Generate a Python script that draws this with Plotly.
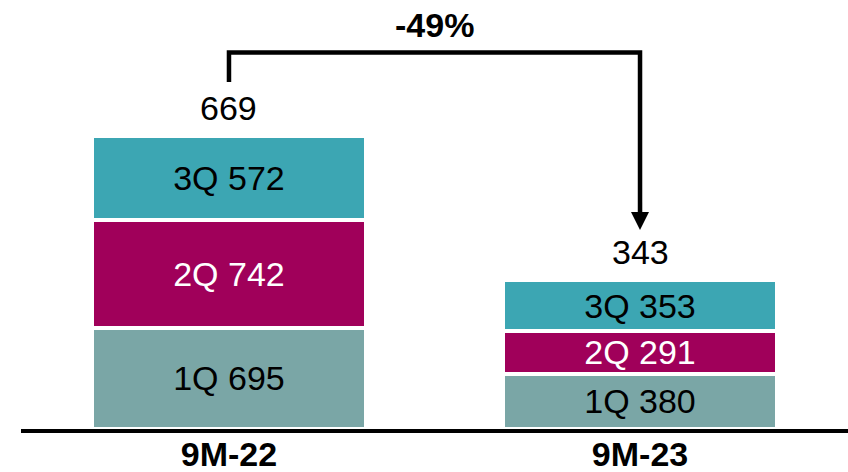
import plotly.graph_objects as go

periods = ["9M-22", "9M-23"]
quarters = ["1Q", "2Q", "3Q"]
q1 = [695, 380]
q2 = [742, 291]
q3 = [572, 353]
averages = [669, 343]
change_label = "-49%"

colors = {"1Q": "#7AA6A6", "2Q": "#A0005A", "3Q": "#3CA6B3"}
text_colors = {"1Q": "black", "2Q": "white", "3Q": "black"}
series = {"1Q": q1, "2Q": q2, "3Q": q3}

xs = list(range(len(periods)))
FONT = "Liberation Sans, Arial, sans-serif"

fig = go.Figure()
for q in quarters:
    vals = series[q]
    fig.add_trace(go.Bar(
        x=xs, y=vals, name=q,
        width=0.667,
        marker=dict(color=colors[q], line=dict(color="white", width=4)),
        text=[f"{q} {v}" for v in vals],
        textposition="inside",
        insidetextanchor="middle",
        textangle=0,
        constraintext="none",
        textfont=dict(family=FONT, size=34, color=text_colors[q]),
        hoverinfo="skip",
    ))

totals = [a + b + c for a, b, c in zip(q1, q2, q3)]

# average labels above each stack
for x, t, avg in zip(xs, totals, averages):
    fig.add_annotation(x=x, y=t, text=str(avg), showarrow=False,
                       yanchor="middle", yshift=28,
                       font=dict(family=FONT, size=34, color="black"))

# bracket from first to second bar
y_left = 2382
y_top = 2584
y_tip = 1366
fig.add_shape(type="path",
              path=f"M {xs[0]},{y_left} L {xs[0]},{y_top} L {xs[1]},{y_top} L {xs[1]},{y_tip + 80}",
              line=dict(color="black", width=4.5), xref="x", yref="y")
fig.add_annotation(x=xs[1], y=y_tip, ax=xs[1], ay=y_tip + 200,
                   xref="x", yref="y", axref="x", ayref="y",
                   text="", showarrow=True, arrowhead=2, arrowsize=0.9,
                   arrowwidth=4, arrowcolor="black", standoff=0)
fig.add_annotation(x=(xs[0] + xs[1]) / 2, y=y_top, text=f"<b>{change_label}</b>",
                   showarrow=False, yanchor="middle", yshift=27,
                   font=dict(family=FONT, size=34, color="black"))

fig.update_layout(
    barmode="stack",
    width=848, height=472,
    margin=dict(l=21, r=0, t=0, b=43),
    paper_bgcolor="white", plot_bgcolor="white",
    showlegend=False,
    xaxis=dict(range=[-0.506, 1.506], tickvals=xs,
               ticktext=[f"<b>{p}</b>" for p in periods],
               showline=True, linecolor="black", linewidth=4,
               showgrid=False, zeroline=False, ticks="", automargin=False,
               ticklabelstandoff=-8,
               tickfont=dict(family=FONT, size=34, color="black")),
    yaxis=dict(range=[0, 2944], visible=False, showgrid=False, automargin=False),
)

fig.write_html("out.html", config={"displayModeBar": False},
               post_script="document.body.style.margin='0';")
